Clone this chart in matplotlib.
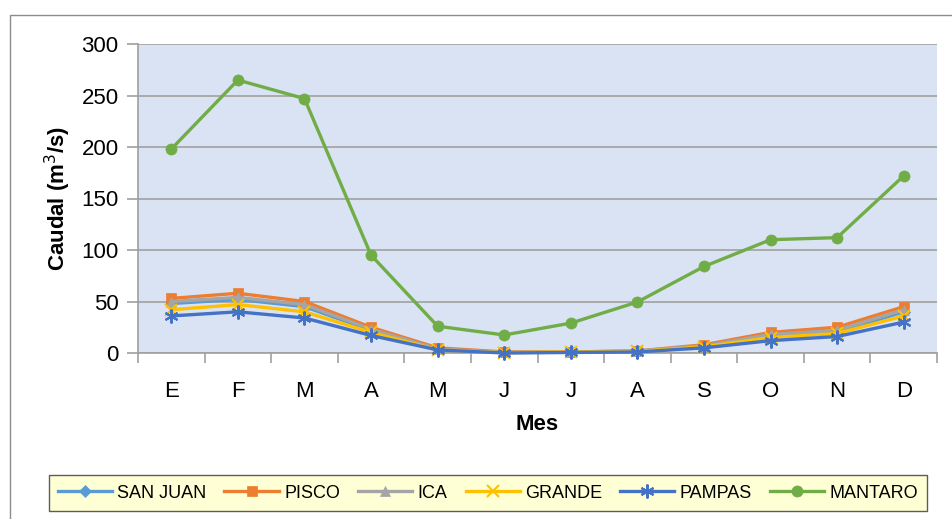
import matplotlib
matplotlib.use("Agg")
import matplotlib.pyplot as plt
from matplotlib.patches import Rectangle

plt.rcParams["font.family"] = ["Liberation Sans", "DejaVu Sans"]

MONTHS = ["E", "F", "M", "A", "M", "J", "J", "A", "S", "O", "N", "D"]

SAN_JUAN = [48, 52, 45, 22, 4, 0.5, 1, 1.5, 6, 16, 20, 40]
PISCO = [53, 58, 50, 25, 5, 1, 1, 2, 8, 20, 25, 45]
ICA = [50, 54, 47, 23, 4, 0.5, 1, 2, 7, 18, 22, 42]
GRANDE = [42, 47, 40, 20, 3, 0.3, 1, 1.5, 6, 15, 19, 36]
PAMPAS = [36, 40, 34, 17, 3, 0, 0.5, 1, 5, 12, 16, 30]
MANTARO = [198, 265, 247, 95, 26, 17.5, 29, 49.5, 84, 110, 112, 172]

SERIES = [
    ("SAN JUAN", SAN_JUAN, "#5B9BD5", "D", 6),
    ("PISCO", PISCO, "#ED7D31", "s", 7),
    ("ICA", ICA, "#A5A5A5", "^", 7),
    ("GRANDE", GRANDE, "#FFC000", "x", 8),
    ("PAMPAS", PAMPAS, "#4472C4", (6, 2, 0), 10),
    ("MANTARO", MANTARO, "#70AD47", "o", 8),
]

fig = plt.figure(figsize=(9.52, 5.19), dpi=100)
fig.patch.set_facecolor("white")
ax = fig.add_axes([138 / 952, 1 - 353 / 519, (937 - 138) / 952, (353 - 44) / 519])
ax.set_facecolor("#DAE3F3")

# outer chart frame
fig.patches.append(Rectangle((10 / 952, -0.1), 1.2, 1 - 15 / 519 + 0.1,
                             transform=fig.transFigure, fill=False,
                             edgecolor="#8C8C8C", linewidth=1.0))

x = list(range(len(MONTHS)))
for name, vals, color, marker, ms in SERIES:
    ax.plot(x, vals, color=color, linewidth=2.4, marker=marker, markersize=ms,
            markeredgewidth=1.5 if marker in ("x", (6, 2, 0)) else 0.5,
            markeredgecolor=color, markerfacecolor=color, label=name,
            clip_on=False, zorder=3)

ax.set_xlim(-0.5, 11.5)
ax.set_ylim(0, 300)
ax.set_yticks(range(0, 301, 50))
ax.set_yticklabels([str(v) for v in range(0, 301, 50)], fontsize=16)
ax.grid(axis="y", color="#A0A0A0", linewidth=1.2)
ax.set_axisbelow(True)

ax.set_xticks([i - 0.5 for i in range(13)])
ax.set_xticklabels([])
ax.set_xticks(x, minor=True)
ax.set_xticklabels(MONTHS, minor=True, fontsize=16)
ax.tick_params(axis="x", which="major", length=7, color="#A0A0A0", width=1.2)
ax.tick_params(axis="x", which="minor", length=0, pad=20)
ax.tick_params(axis="y", length=8, color="#A0A0A0", width=1.2, pad=6)

for s in ("top", "right"):
    ax.spines[s].set_visible(False)
for s in ("left", "bottom"):
    ax.spines[s].set_color("#A0A0A0")
    ax.spines[s].set_linewidth(1.2)

ax.set_ylabel("Caudal (m$^3$/s)", fontsize=16, fontweight="bold", labelpad=6)
ax.set_xlabel("Mes", fontsize=16, fontweight="bold", labelpad=9)

leg = fig.legend(loc="center", bbox_to_anchor=(488 / 952, 1 - 493 / 519),
                 ncol=6, fontsize=13, frameon=True, fancybox=False,
                 handlelength=3, columnspacing=1.0, handletextpad=0.3,
                 borderpad=0.5)
leg.get_frame().set_facecolor("#FFFFCC")
leg.get_frame().set_edgecolor("#333333")
leg.get_frame().set_linewidth(1.0)

fig.savefig("out.png", dpi=100)
